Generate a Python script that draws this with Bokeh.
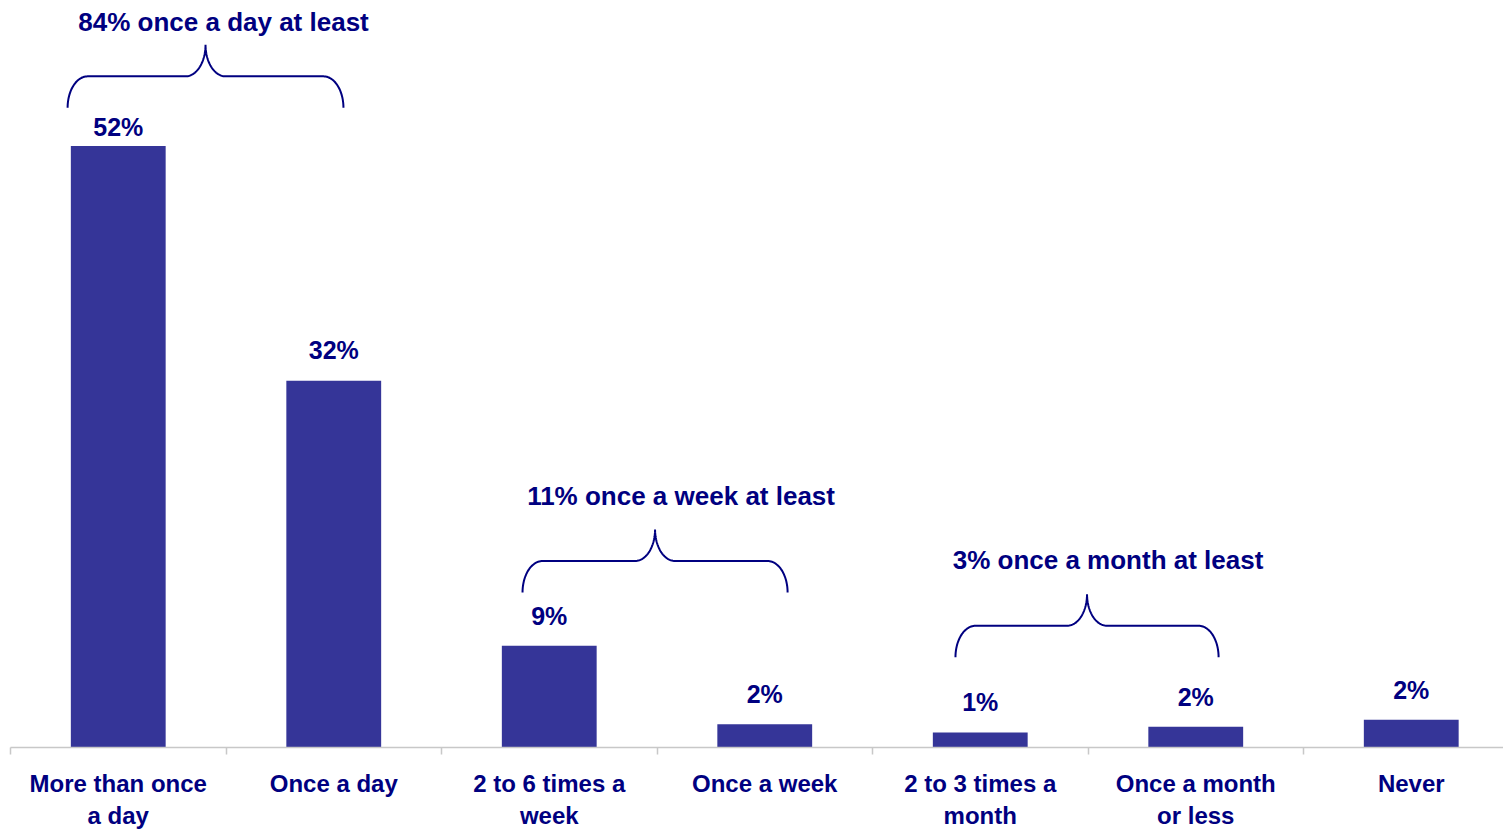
import numpy as np
from bokeh.plotting import figure
from bokeh.models import ColumnDataSource, Range1d, FixedTicker
from bokeh.embed import file_html
from bokeh.resources import INLINE
from bokeh.core.properties import value

# ---- data ----
categories = ["More than once\na day", "Once a day", "2 to 6 times a\nweek", "Once a week",
              "2 to 3 times a\nmonth", "Once a month\nor less", "Never"]
values = [52.0, 31.7, 8.8, 2.0, 1.3, 1.8, 2.4]
value_labels = ["52%", "32%", "9%", "2%", "1%", "2%", "2%"]
group_labels = ["84% once a day at least", "11% once a week at least", "3% once a month at least"]

# ---- annotation placement (brace spans in category units, base level in data units) ----
brace_left = [0.265, 2.376, 4.385]
brace_right = [1.545, 3.606, 5.606]
brace_base = [55.3, 13.4, 7.8]
label_offsets = [-19, -31, -30, -30, -30, -30, -30]
group_label_offsets = [-23, -34, -34]
group_label_xoffsets = [18, 26, 21]

NAVY = "#000080"
BAR = "#353598"
FONT = "Liberation Sans"

W, H = 1503, 831
left_border, bottom_border = 10, 84
cat_px = 215.5
frame_h = H - bottom_border
y_scale = 11.567  # px per unit
x_end = (W - left_border) / cat_px
y_end = frame_h / y_scale

p = figure(width=W, height=H, output_backend="svg", toolbar_location=None,
           x_range=Range1d(0, x_end), y_range=Range1d(0, y_end),
           y_axis_location=None, min_border_left=left_border, min_border_right=0,
           min_border_top=0, min_border_bottom=bottom_border)
p.outline_line_color = None
p.xgrid.visible = False
p.ygrid.visible = False
p.background_fill_color = "white"
p.border_fill_color = "white"

centers = [i + 0.5 for i in range(len(categories))]
src = ColumnDataSource(dict(x=centers, top=values, lab=value_labels, off=label_offsets))
p.vbar(x="x", top="top", bottom=0, width=0.44, source=src, fill_color=BAR, line_color=None)
p.text(x="x", y="top", text="lab", source=src, y_offset="off",
       text_align="center", text_baseline="middle", text_color=NAVY,
       text_font=value(FONT), text_font_style="bold", text_font_size="25px")

ax = p.xaxis[0]
ax.ticker = FixedTicker(ticks=centers, minor_ticks=list(range(len(categories) + 1)))
ax.major_label_overrides = {c: lab for c, lab in zip(centers, categories)}
ax.axis_line_color = "#c8c8c8"
ax.axis_line_width = 1.5
ax.major_tick_line_color = None
ax.major_tick_out = 0
ax.major_tick_in = 0
ax.minor_tick_line_color = "#c8c8c8"
ax.minor_tick_line_width = 1.5
ax.minor_tick_out = 7
ax.minor_tick_in = 0
ax.major_label_standoff = 15
ax.major_label_text_font = FONT
ax.major_label_text_font_style = "bold"
ax.major_label_text_font_size = "24px"
ax.major_label_text_color = NAVY

# ---- braces ----
h_px, rx_px = 63.0, 20.0
t = np.linspace(0, np.pi / 2, 30)
for xl, xr, yb, glab, gyo, gxo in zip(brace_left, brace_right, brace_base, group_labels,
                                      group_label_offsets, group_label_xoffsets):
    w_px = (xr - xl) * cat_px
    half = w_px / 2
    x1 = rx_px - rx_px * np.cos(t); y1 = (h_px / 2) * np.sin(t)
    x2 = half - rx_px + rx_px * np.sin(t); y2 = h_px - (h_px / 2) * np.cos(t)
    xs_l = np.concatenate([x1, x2]); ys_l = np.concatenate([y1, y2])
    xs_r = w_px - xs_l[::-1]; ys_r = ys_l[::-1]
    xs = np.concatenate([xs_l, xs_r]) / cat_px + xl
    ys = np.concatenate([ys_l, ys_r]) / y_scale + yb
    p.line(xs, ys, line_color=NAVY, line_width=2)
    top_y = yb + h_px / y_scale
    p.text(x=[(xl + xr) / 2], y=[top_y], text=[glab], x_offset=gxo, y_offset=gyo,
           text_align="center", text_baseline="middle", text_color=NAVY,
           text_font=value(FONT), text_font_style="bold", text_font_size="26px")

open("out.html", "w").write(file_html(p, INLINE))
